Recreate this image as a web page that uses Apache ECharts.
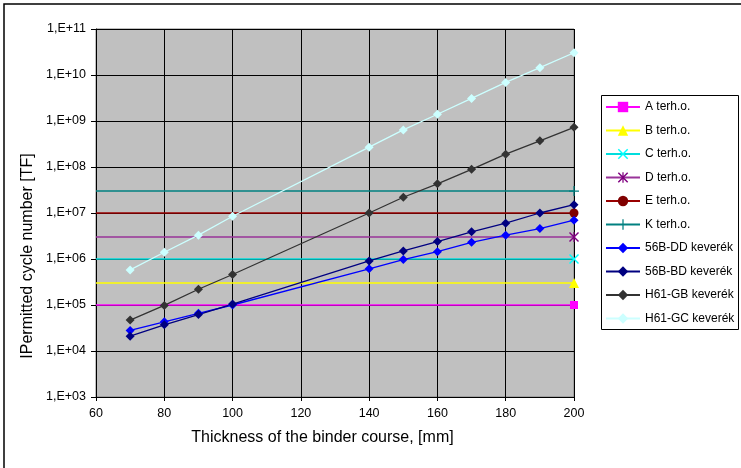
<!DOCTYPE html>
<html>
<head>
<meta charset="utf-8">
<script src="https://cdn.jsdelivr.net/npm/echarts@6/dist/echarts.min.js"></script>
<style>html,body{margin:0;padding:0;background:#fff}#c{width:741px;height:468px}</style>
</head>
<body>
<div id="c"></div>
<script>
// Data
const thickness = [70, 80, 90, 100, 140, 150, 160, 170, 180, 190, 200];
const dd56B = [2.8e4, 4.3e4, 6.6e4, 1.0e5, 6.1e5, 9.7e5, 1.44e6, 2.3e6, 3.3e6, 4.6e6, 7.0e6];
const bd56B = [2.1e4, 3.7e4, 6.2e4, 1.05e5, 9.1e5, 1.5e6, 2.4e6, 3.9e6, 6.0e6, 1.0e7, 1.52e7];
const gbH61 = [4.7e4, 9.8e4, 2.2e5, 4.6e5, 1.0e7, 2.2e7, 4.3e7, 8.9e7, 1.9e8, 3.7e8, 7.3e8];
const gcH61 = [5.8e5, 1.4e6, 3.3e6, 8.5e6, 2.7e8, 6.4e8, 1.4e9, 3.1e9, 6.9e9, 1.44e10, 3.05e10];
const loadNames = ['A terh.o.', 'B terh.o.', 'C terh.o.', 'D terh.o.', 'E terh.o.', 'K terh.o.'];
const loadLevels = [1e5, 3e5, 1e6, 3e6, 1e7, 3e7];
const loadRange = [60, 200];
const mixNames = ['56B-DD keverék', '56B-BD keverék', 'H61-GB keverék', 'H61-GC keverék'];
const xTicks = {min: 60, max: 200, interval: 20};
const yRange = {min: 1e3, max: 1e11};

const crossPath = 'path://M0,1 L1,0 L5,4 L9,0 L10,1 L6,5 L10,9 L9,10 L5,6 L1,10 L0,9 L4,5 Z';
const starPath = 'path://M0,1 L1,0 L5,4 L9,0 L10,1 L6,5 L10,9 L9,10 L5,6 L1,10 L0,9 L4,5 Z M4.4,0 L5.6,0 L5.6,10 L4.4,10 Z';
const plusPath = 'path://M4.4,0 L5.6,0 L5.6,4.4 L10,4.4 L10,5.6 L5.6,5.6 L5.6,10 L4.4,10 L4.4,5.6 L0,5.6 L0,4.4 L4.4,4.4 Z';

const loadStyles = [
  {color: '#FF00FF', symbol: 'rect', size: 8},
  {color: '#FFFF00', symbol: 'triangle', size: 10},
  {color: '#00DDDD', symbol: crossPath, size: 10, mcolor: '#00FFFF'},
  {color: '#993399', symbol: starPath, size: 10, mcolor: '#800080'},
  {color: '#990000', symbol: 'circle', size: 9, mcolor: '#800000'},
  {color: '#008080', symbol: plusPath, size: 10}
];
const mixStyles = [
  {color: '#0000FF'}, {color: '#000080'}, {color: '#333333'}, {color: '#CCFFFF'}
];
const mixData = [dd56B, bd56B, gbH61, gcH61];

const series = [];
loadNames.forEach((n, i) => {
  const s = loadStyles[i];
  series.push({
    name: n, type: 'line',
    symbol: s.symbol, symbolSize: s.size,
    itemStyle: {color: s.mcolor || s.color},
    lineStyle: {color: s.color, width: 1.5},
    data: [{value: [loadRange[0], loadLevels[i]], symbol: 'none'}, [loadRange[1], loadLevels[i]]],
    z: 2, animation: false
  });
});
mixNames.forEach((n, i) => {
  series.push({
    name: n, type: 'line',
    symbol: 'diamond', symbolSize: 9,
    itemStyle: {color: mixStyles[i].color},
    lineStyle: {color: mixStyles[i].color, width: 1.3},
    data: thickness.map((t, k) => [t, mixData[i][k]]),
    z: 3, animation: false
  });
});

const FONT = 'Liberation Sans, Arial, sans-serif';
const chart = echarts.init(document.getElementById('c'));
chart.setOption({
  animation: false,
  backgroundColor: '#ffffff',
  textStyle: {fontFamily: FONT},
  graphic: [
    {type: 'rect', shape: {x: 4, y: 4, width: 745, height: 475}, style: {fill: 'none', stroke: '#000', lineWidth: 1.5}, z: -10},
    {type: 'rect', shape: {x: 601.5, y: 95.5, width: 137, height: 234}, style: {fill: '#fff', stroke: '#000', lineWidth: 1}, z: -5}
  ],
  grid: {left: 96, right: 167, top: 29, bottom: 71, show: true, backgroundColor: '#C0C0C0', borderColor: '#808080', borderWidth: 1},
  legend: {
    orient: 'vertical', left: 605, top: 101, padding: 0,
    itemWidth: 34, itemHeight: 13, itemGap: 11.5,
    textStyle: {fontSize: 12, color: '#000', fontFamily: FONT},
    data: loadNames.concat(mixNames)
  },
  xAxis: {
    type: 'value', min: xTicks.min, max: xTicks.max, interval: xTicks.interval,
    name: 'Thickness of the binder course, [mm]', nameLocation: 'middle', nameGap: 33,
    nameTextStyle: {fontSize: 16, color: '#000', padding: [0, 25, 0, 0]},
    axisLine: {lineStyle: {color: '#000'}},
    axisTick: {show: true, length: 4, lineStyle: {color: '#000'}},
    axisLabel: {fontSize: 12.5, color: '#000', margin: 10},
    splitLine: {show: true, lineStyle: {color: '#000', width: 1}}
  },
  yAxis: {
    type: 'log', logBase: 10, min: yRange.min, max: yRange.max,
    name: 'IPermitted cycle number [TF]', nameLocation: 'middle', nameGap: 58,
    nameTextStyle: {fontSize: 16, color: '#000', padding: [0, 86, 0, 0]},
    axisLine: {show: true, lineStyle: {color: '#000'}},
    axisTick: {show: true, length: 5, lineStyle: {color: '#000'}},
    axisLabel: {fontSize: 12.5, color: '#000', margin: 10,
      formatter: v => { const e = Math.round(Math.log10(v)); return '1,E+' + (e < 10 ? '0' + e : e); }},
    splitLine: {show: true, lineStyle: {color: '#000', width: 1}}
  },
  series: series
});
</script>
</body>
</html>
